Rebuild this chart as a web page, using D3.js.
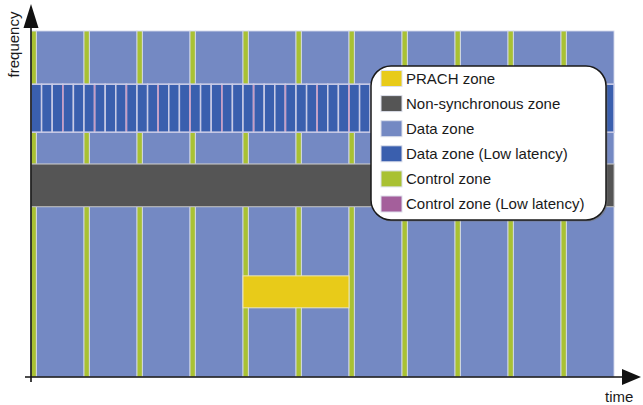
<!DOCTYPE html>
<html>
<head>
<meta charset="utf-8">
<script src="https://cdn.jsdelivr.net/npm/d3@7"></script>
<style>
    body { margin: 0; background: #fff; }
    svg { display: block; }
    text { font-family: "Liberation Sans", Arial, sans-serif; fill: #1a1a1a; }
</style>
</head>
<body>
<div id="chart"></div>
<script>
// Time is counted in slots, frequency in resource-block units (0 = bottom)
const slots = [0, 1, 2, 3, 4, 5, 6, 7, 8, 9, 10];
const minislotsPerSlot = 5;
const controlShare = 0.1;              // part of each slot used by the control zone
const llControlEvery = 3;              // low-latency control every 3 mini-slots

const dataBandFrom = [0, 40, 55];
const dataBandTo = [32, 46, 65];
const nonSyncBand = [32, 40];
const lowLatencyBand = [46, 55];
const prachSlots = [4, 5];
const prachBand = [13, 19];

const legendLabels = ['PRACH zone', 'Non-synchronous zone', 'Data zone',
    'Data zone (Low latency)', 'Control zone', 'Control zone (Low latency)'];
const legendColors = ['#e8cb19', '#555555', '#7489c3', '#3a5fae', '#a9c133', '#a45f9b'];

const width = 643, height = 405;
const sep = '#d3d8ec';

const svg = d3.select('#chart')
    .append('svg')
    .attr('width', width)
    .attr('height', height);

// Scales
const x = d3.scaleLinear().domain([0, slots.length]).range([31, 614]);
const y = d3.scaleLinear().domain([0, 65]).range([377, 31]);

const grid = svg.append('g');

// Data zones with the control zone at the start of every slot
dataBandFrom.forEach((f, b) => {
    const t = dataBandTo[b];
    grid.selectAll(null)
        .data(slots)
        .enter()
        .append('rect')
        .attr('x', d => x(d + controlShare))
        .attr('y', y(t))
        .attr('width', d => x(d + 1) - x(d + controlShare))
        .attr('height', y(f) - y(t))
        .attr('fill', legendColors[2])
        .attr('stroke', sep)
        .attr('stroke-width', 0.9);
    grid.selectAll(null)
        .data(slots)
        .enter()
        .append('rect')
        .attr('x', d => x(d))
        .attr('y', y(t))
        .attr('width', x(controlShare) - x(0))
        .attr('height', y(f) - y(t))
        .attr('fill', legendColors[4])
        .attr('stroke', sep)
        .attr('stroke-width', 0.9);
});

// Non-synchronous zone
grid.append('rect')
    .attr('x', x(0))
    .attr('y', y(nonSyncBand[1]))
    .attr('width', x(slots.length) - x(0))
    .attr('height', y(nonSyncBand[0]) - y(nonSyncBand[1]))
    .attr('fill', legendColors[1])
    .attr('stroke', '#b8b8b8')
    .attr('stroke-width', 1);

// Low latency zone, split in mini-slots
const minislots = [];
slots.forEach(s => {
    for (let m = 0; m < minislotsPerSlot; m++) minislots.push(s + m / minislotsPerSlot);
});

grid.selectAll(null)
    .data(minislots)
    .enter()
    .append('rect')
    .attr('x', d => x(d))
    .attr('y', y(lowLatencyBand[1]))
    .attr('width', x(1 / minislotsPerSlot) - x(0))
    .attr('height', y(lowLatencyBand[0]) - y(lowLatencyBand[1]))
    .attr('fill', legendColors[3])
    .attr('stroke', '#c9cbe6')
    .attr('stroke-width', 1.5);

grid.selectAll(null)
    .data(minislots.filter((d, i) => i > 0 && i % llControlEvery === 0))
    .enter()
    .append('rect')
    .attr('x', d => x(d) - 0.8)
    .attr('y', y(lowLatencyBand[1]) + 0.8)
    .attr('width', 1.6)
    .attr('height', y(lowLatencyBand[0]) - y(lowLatencyBand[1]) - 1.6)
    .attr('fill', '#c99cc4');

// PRACH zone
grid.append('rect')
    .attr('x', x(prachSlots[0]))
    .attr('y', y(prachBand[1]))
    .attr('width', x(prachSlots[prachSlots.length - 1] + 1) - x(prachSlots[0]))
    .attr('height', y(prachBand[0]) - y(prachBand[1]))
    .attr('fill', legendColors[0])
    .attr('stroke', '#ece6b8')
    .attr('stroke-width', 1);

// Axes
const axes = svg.append('g');
axes.append('line')
    .attr('x1', x(0)).attr('x2', x(0))
    .attr('y1', 25).attr('y2', 382)
    .attr('stroke', '#111').attr('stroke-width', 1.6);
axes.append('line')
    .attr('x1', 25).attr('x2', 625)
    .attr('y1', y(0)).attr('y2', y(0))
    .attr('stroke', '#111').attr('stroke-width', 1.6);
axes.append('path')
    .attr('d', `M${x(0)},4 L${x(0) - 7.5},28 L${x(0) + 7.5},28 Z`)
    .attr('fill', '#111');
axes.append('path')
    .attr('d', `M641,${y(0)} L622,${y(0) - 8} L622,${y(0) + 8} Z`)
    .attr('fill', '#111');

axes.append('text')
    .attr('transform', 'rotate(-90)')
    .attr('x', -44.5)
    .attr('y', 19)
    .style('text-anchor', 'middle')
    .style('font-size', '15px')
    .text('frequency');

axes.append('text')
    .attr('x', 605)
    .attr('y', 402)
    .style('font-size', '15px')
    .text('time');

// Legend
const legend = svg.append('g');
legend.append('rect')
    .attr('x', 372.5).attr('y', 67.5)
    .attr('width', 235).attr('height', 154)
    .attr('rx', 20).attr('ry', 20)
    .attr('fill', '#777').attr('opacity', 0.6);
legend.append('rect')
    .attr('x', 371).attr('y', 66)
    .attr('width', 235).attr('height', 154)
    .attr('rx', 20).attr('ry', 20)
    .attr('fill', '#fff')
    .attr('stroke', '#1a1a1a')
    .attr('stroke-width', 1.5);

const rowY = d3.scalePoint()
    .domain(legendLabels)
    .range([78.5, 204]);

const items = legend.selectAll('.item')
    .data(legendLabels)
    .enter()
    .append('g')
    .attr('class', 'item')
    .attr('transform', d => `translate(381,${rowY(d)})`);

items.append('rect')
    .attr('x', 0)
    .attr('y', -8)
    .attr('width', 21)
    .attr('height', 16)
    .attr('fill', (d, i) => legendColors[i])
    .attr('stroke', '#dde0ec')
    .attr('stroke-width', 1);

items.append('text')
    .attr('x', 25)
    .attr('dy', '0.35em')
    .style('font-size', '15px')
    .text(d => d);
</script>
</body>
</html>
